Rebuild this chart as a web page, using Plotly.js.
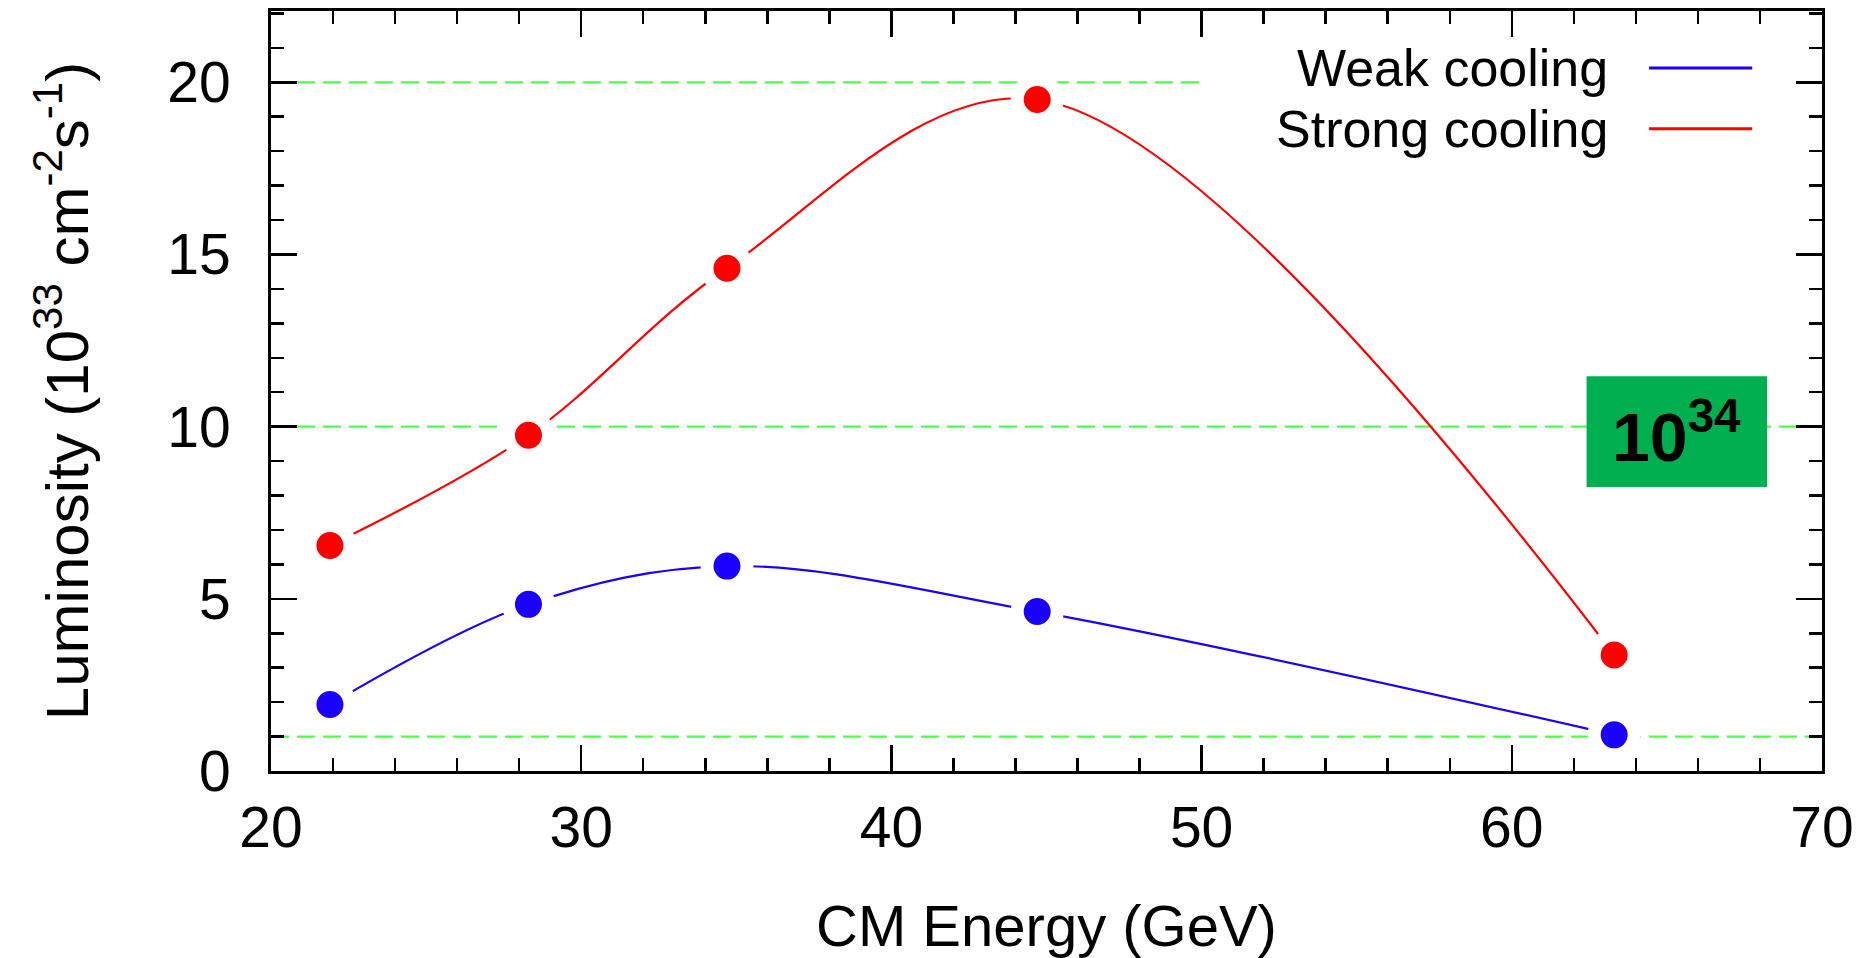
<!DOCTYPE html>
<html>
<head>
<meta charset="utf-8">
<script src="https://cdn.plot.ly/plotly-3.0.1.min.js"></script>
<style>html,body{margin:0;padding:0;background:#fff;}#chart{width:1872px;height:958px;}</style>
</head>
<body>
<div id="chart"></div>
<script>
// ---- data ----
const energy = [21.9, 28.3, 34.7, 44.7, 63.3];          // CM energy (GeV)
const weakCooling = [1.93, 4.84, 5.95, 4.63, 1.05];    // 10^33 cm^-2 s^-1
const strongCooling = [6.55, 9.75, 14.6, 19.5, 3.37];  // 10^33 cm^-2 s^-1
const seriesNames = ["Weak cooling", "Strong cooling"];
const seriesColors = ["#1a00ff", "#ff0000"];
const refLevels = [20, 10, 1];       // reference luminosity levels
const refLevelEnds = [50, 70, 70];   // where each reference line stops (GeV)
const boxLabel = "10<sup>34</sup>";
const xTitle = "CM Energy (GeV)";
const yTitle = "Luminosity (10<sup>33</sup> cm<sup>-2</sup>s<sup>-1</sup>)";

const FONT = "Liberation Sans, Arial, sans-serif";
const allSeries = [weakCooling, strongCooling];

const traces = [];
allSeries.forEach((ys, i) => {
  traces.push({
    x: energy, y: ys, type: "scatter", mode: "lines",
    line: {color: seriesColors[i], width: 2.2, shape: "spline", smoothing: 1},
    name: seriesNames[i], showlegend: false, hoverinfo: "skip"
  });
});
allSeries.forEach((ys, i) => {
  traces.push({
    x: energy, y: ys, type: "scatter", mode: "markers",
    marker: {color: seriesColors[i], size: 40, symbol: "circle",
             line: {color: "#ffffff", width: 13}},
    showlegend: false, cliponaxis: false
  });
});

const shapes = [];
refLevels.forEach((lv, i) => {
  shapes.push({type: "line", xref: "x", yref: "y", x0: 20, x1: refLevelEnds[i], y0: lv, y1: lv,
    line: {color: "#4dff4d", width: 2.2, dash: "18px,8px"}, layer: "below"});
});
shapes.push({type: "rect", xref: "x", yref: "y", x0: 62.41, x1: 68.23, y0: 8.25, y1: 11.46,
  fillcolor: "#00b050", line: {width: 0}, layer: "below"});

// legend drawn as text + line samples (text on the left, sample on the right)
const annotations = [];
const legendY = [0.925, 0.845];
seriesNames.forEach((nm, i) => {
  annotations.push({xref: "paper", yref: "paper", x: 0.8635, y: legendY[i], xanchor: "right", yanchor: "middle",
    text: nm, showarrow: false, font: {family: FONT, size: 52, color: "#000"}});
  shapes.push({type: "line", xref: "paper", yref: "paper", x0: 0.8885, x1: 0.955, y0: legendY[i], y1: legendY[i],
    line: {color: seriesColors[i], width: 3}});
});
annotations.push({xref: "x", yref: "y", x: 65.32, y: 9.85, xanchor: "center", yanchor: "middle",
  text: boxLabel, showarrow: false, font: {family: FONT, size: 68, color: "#000", weight: "bold"}});

const axisCommon = {
  showgrid: false, zeroline: false, showline: true, linecolor: "#000", linewidth: 3,
  mirror: "allticks", ticks: "inside", ticklen: 26, tickwidth: 2.5, tickcolor: "#000",
  tickfont: {family: FONT, size: 57, color: "#000"}
};

const layout = {
  width: 1872, height: 958,
  margin: {l: 271, r: 50, t: 11, b: 187},
  paper_bgcolor: "#fff", plot_bgcolor: "#fff",
  showlegend: false,
  xaxis: Object.assign({}, axisCommon, {
    range: [20, 70], dtick: 10, tick0: 20, ticklabelstandoff: 5,
    minor: {dtick: 2, ticklen: 13, tickwidth: 2.5, tickcolor: "#000", ticks: "inside"},
    title: {text: xTitle, font: {family: FONT, size: 58, color: "#000"}, standoff: 58}
  }),
  yaxis: Object.assign({}, axisCommon, {
    range: [0, 22.07], dtick: 5, tick0: 0, ticklabelstandoff: 26,
    minor: {dtick: 1, ticklen: 13, tickwidth: 2.5, tickcolor: "#000", ticks: "inside"},
    title: {text: yTitle, font: {family: FONT, size: 60, color: "#000"}, standoff: 60}
  }),
  shapes: shapes, annotations: annotations
};

Plotly.newPlot("chart", traces, layout, {displayModeBar: false, staticPlot: true});
</script>
</body>
</html>
